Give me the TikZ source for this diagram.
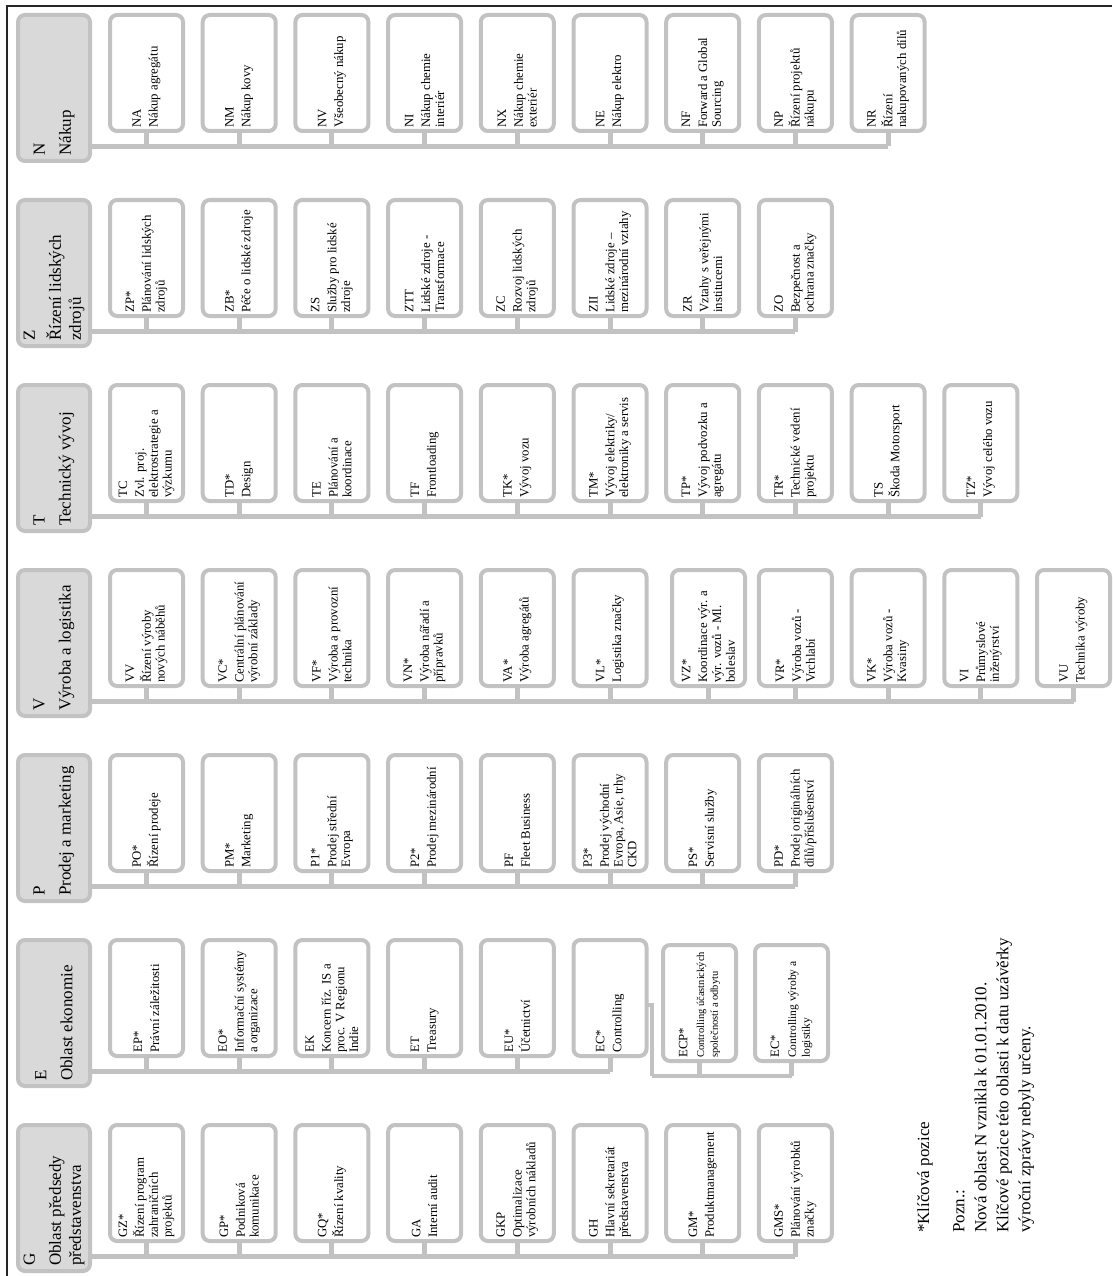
\documentclass[tikz,border=0pt]{standalone}
\usepackage{fontspec}
\setmainfont{Liberation Serif}
\definecolor{boxgray}{HTML}{C2C2C2}
\definecolor{headfill}{HTML}{D9D9D9}
\newcommand\kid[6]{% #1 name, #2 left x, #3 top y, #4 bus, #5 code, #6 text
  \node[kidbox] (#1) at ({#2+38.5},{#3+60}) {};
  \node[kidtext] (#1-t) at ([yshift=3pt]#1.south) {#5\\[3pt]#6};
  \draw[conn] (#1.south) -- (#1.south |- #4);
}
\newcommand\head[4]{% #1 name, #2 top y, #3 code, #4 text
  \node[headbox] (#1) at (54,{#2+75}) {};
  \node[headtext] (#1-t) at ([yshift=5pt]#1.south) {#3\\[6pt]#4};
  \coordinate (#1-bus) at (54,{#2+133.5});
}
\begin{document}
\begin{tikzpicture}[x=1pt,y=-1pt,
  kidbox/.style={draw=boxgray, line width=4pt, rounded corners=7pt, fill=white,
    minimum width=73pt, minimum height=116pt, inner sep=0pt, outer sep=0pt},
  headbox/.style={draw=boxgray, line width=4pt, rounded corners=7pt, fill=headfill,
    minimum width=72pt, minimum height=146pt, inner sep=0pt, outer sep=0pt},
  kidtext/.style={rotate=90, anchor=west, align=left, inner sep=0pt,
    font=\fontsize{12.8}{13.8}\selectfont},
  headtext/.style={rotate=90, anchor=west, align=left, inner sep=0pt,
    font=\fontsize{17}{20}\selectfont},
  notetext/.style={rotate=90, anchor=north west, align=left, inner sep=0pt,
    font=\fontsize{17}{22}\selectfont},
  conn/.style={draw=boxgray, line width=5pt},
  conntwo/.style={draw=boxgray, line width=4pt}]
\useasboundingbox (0,0) rectangle (1112,1276);
\draw[line width=2pt, black!85] (1112,6) -- (7,6) -- (7,1276);

% ---------------- N
\head{hN}{13}{N}{Nákup}
\kid{NA}{108}{13}{hN-bus}{NA}{Nákup agregátu}
\kid{NM}{200.7}{13}{hN-bus}{NM}{Nákup kovy}
\kid{NV}{293.4}{13}{hN-bus}{NV}{Všeobecný nákup}
\kid{NI}{386.1}{13}{hN-bus}{NI}{Nákup chemie\\interiér}
\kid{NX}{478.8}{13}{hN-bus}{NX}{Nákup chemie\\exteriér}
\kid{NE}{571.5}{13}{hN-bus}{NE}{Nákup elektro}
\kid{NF}{664.2}{13}{hN-bus}{NF}{Forward a Global\\Sourcing}
\kid{NP}{756.9}{13}{hN-bus}{NP}{Řízení projektů\\nákupu}
\kid{NR}{849.6}{13}{hN-bus}{NR}{Řízení\\nakupovaných dílů}
\draw[conn] (hN.east |- hN-bus) -- (NR.south |- hN-bus);

% ---------------- Z
\head{hZ}{198}{Z}{Řízení lidských\\zdrojů}
\kid{ZP}{108}{198}{hZ-bus}{ZP*}{Plánování lidských\\zdrojů}
\kid{ZB}{200.7}{198}{hZ-bus}{ZB*}{Péče o lidské zdroje}
\kid{ZS}{293.4}{198}{hZ-bus}{ZS}{Služby pro lidské\\zdroje}
\kid{ZTT}{386.1}{198}{hZ-bus}{ZTT}{Lidské zdroje -\\Transformace}
\kid{ZC}{478.8}{198}{hZ-bus}{ZC}{Rozvoj lidských\\zdrojů}
\kid{ZII}{571.5}{198}{hZ-bus}{ZII}{Lidské zdroje –\\mezinárodní vztahy}
\kid{ZR}{664.2}{198}{hZ-bus}{ZR}{Vztahy s veřejnými\\institucemi}
\kid{ZO}{756.9}{198}{hZ-bus}{ZO}{Bezpečnost a\\ochrana značky}
\draw[conn] (hZ.east |- hZ-bus) -- (ZO.south |- hZ-bus);

% ---------------- T
\head{hT}{383}{T}{Technický vývoj}
\kid{TC}{108}{383}{hT-bus}{TC}{Zvl. proj.\\elektrostrategie a\\výzkumu}
\kid{TD}{200.7}{383}{hT-bus}{TD*}{Design}
\kid{TE}{293.4}{383}{hT-bus}{TE}{Plánování a\\koordinace}
\kid{TF}{386.1}{383}{hT-bus}{TF}{Frontloading}
\kid{TK}{478.8}{383}{hT-bus}{TK*}{Vývoj vozu}
\kid{TM}{571.5}{383}{hT-bus}{TM*}{Vývoj elektriky/\\elektroniky a servis}
\kid{TP}{664.2}{383}{hT-bus}{TP*}{Vývoj podvozku a\\agregátu}
\kid{TR}{756.9}{383}{hT-bus}{TR*}{Technické vedení\\projektu}
\kid{TS}{849.6}{383}{hT-bus}{TS}{Škoda Motorsport}
\kid{TZ}{942.3}{383}{hT-bus}{TZ*}{Vývoj celého vozu}
\draw[conn] (hT.east |- hT-bus) -- (TZ.south |- hT-bus);

% ---------------- V
\head{hV}{568}{V}{Výroba a logistika}
\kid{VV}{108}{568}{hV-bus}{VV}{Řízení výroby\\nových náběhů}
\kid{VC}{200.7}{568}{hV-bus}{VC*}{Centrální plánování\\výrobní základy}
\kid{VF}{293.4}{568}{hV-bus}{VF*}{Výroba a provozní\\technika}
\kid{VN}{386.1}{568}{hV-bus}{VN*}{Výroba nářadí a\\přípravků}
\kid{VA}{478.8}{568}{hV-bus}{VA*}{Výroba agregátů}
\kid{VL}{571.5}{568}{hV-bus}{VL*}{Logistika značky}
\kid{VZ}{670}{568}{hV-bus}{VZ*}{Koordinace výr. a\\výr. vozů - Ml.\\boleslav}
\kid{VR}{756.9}{568}{hV-bus}{VR*}{Výroba vozů -\\Vrchlabí}
\kid{VK}{849.6}{568}{hV-bus}{VK*}{Výroba vozů -\\Kvasiny}
\kid{VI}{942.3}{568}{hV-bus}{VI}{Průmyslové\\inženýrství}
\kid{VU}{1035}{568}{hV-bus}{VU}{Technika výroby}
\draw[conn] (hV.east |- hV-bus) -- (VU.south |- hV-bus);

% ---------------- P
\head{hP}{753}{P}{Prodej a marketing}
\kid{PO}{108}{753}{hP-bus}{PO*}{Řízení prodeje}
\kid{PM}{200.7}{753}{hP-bus}{PM*}{Marketing}
\kid{Pa}{293.4}{753}{hP-bus}{P1*}{Prodej střední\\Evropa}
\kid{Pb}{386.1}{753}{hP-bus}{P2*}{Prodej mezinárodní}
\kid{PF}{478.8}{753}{hP-bus}{PF}{Fleet Business}
\kid{Pc}{571.5}{753}{hP-bus}{P3*}{Prodej východní\\Evropa, Asie, trhy\\CKD}
\kid{PS}{664.2}{753}{hP-bus}{PS*}{Servisní služby}
\kid{PD}{756.9}{753}{hP-bus}{PD*}{Prodej originálních\\dílů/příslušenství}
\draw[conn] (hP.east |- hP-bus) -- (PD.south |- hP-bus);

% ---------------- E
\head{hE}{938}{E}{Oblast ekonomie}
\kid{EP}{108}{938}{hE-bus}{EP*}{Právní záležitosti}
\kid{EO}{200.7}{938}{hE-bus}{EO*}{Informační systémy\\a organizace}
\kid{EK}{293.4}{938}{hE-bus}{EK}{Koncern říz. IS a\\proc. V Regionu\\Indie}
\kid{ET}{386.1}{938}{hE-bus}{ET}{Treasury}
\kid{EU}{478.8}{938}{hE-bus}{EU*}{Účetnictví}
\kid{EC}{571.5}{938}{hE-bus}{EC*}{Controlling}
\draw[conn] (hE.east |- hE-bus) -- (EC.south |- hE-bus);
\coordinate (busEtwo) at (652,1075.5);
\draw[conntwo] ([yshift=-7pt]EC.east) -| (busEtwo);
\kid{ECP}{661}{943}{busEtwo}{ECP*}{{\fontsize{10.5}{12}\selectfont Controlling účastnických}\\{\fontsize{10.5}{12}\selectfont společností a odbytu}}
\kid{ECL}{753}{943}{busEtwo}{EC*}{{\fontsize{11.5}{12.5}\selectfont Controlling výroby a}\\{\fontsize{11.5}{12.5}\selectfont logistiky}}
\draw[conntwo] (busEtwo) -- (ECL.south |- busEtwo);

% ---------------- G
\head{hG}{1123}{G}{Oblast předsedy\\představenstva}
\kid{GZ}{108}{1123}{hG-bus}{GZ*}{Řízení program\\zahraničních\\projektů}
\kid{GP}{200.7}{1123}{hG-bus}{GP*}{Podniková\\komunikace}
\kid{GQ}{293.4}{1123}{hG-bus}{GQ*}{Řízení kvality}
\kid{GA}{386.1}{1123}{hG-bus}{GA}{Interní audit}
\kid{GKP}{478.8}{1123}{hG-bus}{GKP}{Optimalizace\\výrobních nákladů}
\kid{GH}{571.5}{1123}{hG-bus}{GH}{Hlavní sekretariát\\představenstva}
\kid{GM}{664.2}{1123}{hG-bus}{GM*}{Produktmanagement}
\kid{GMS}{756.9}{1123}{hG-bus}{GMS*}{Plánování výrobků\\značky}
\draw[conn] (hG.east |- hG-bus) -- (GMS.south |- hG-bus);

% ---------------- notes
\node[notetext] (key) at (917,1233) {*Klíčová pozice};
\node[notetext] (note) at (953,1233) {Pozn.:\\Nová oblast N vznikla k 01.01.2010.\\Klíčové pozice této oblasti k datu uzávěrky\\výroční zprávy nebyly určeny.};
\end{tikzpicture}
\end{document}
